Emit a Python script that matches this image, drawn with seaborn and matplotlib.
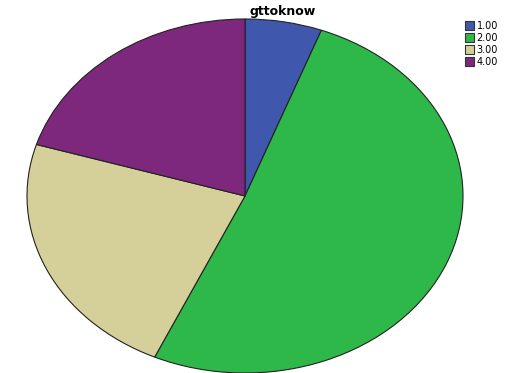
import matplotlib
matplotlib.use("Agg")
import matplotlib.pyplot as plt
import seaborn as sns
from matplotlib.patches import Patch

sns.set_style("white")
plt.rcParams['font.family'] = ['DejaVu Sans']
plt.rcParams['text.color'] = 'black'

categories = ["1.00", "2.00", "3.00", "4.00"]
shares = [5.7, 51.1, 22.9, 20.3]
colors = ["#3F57AD", "#2EB84A", "#D5D09A", "#7D287D"]

fig = plt.figure(figsize=(5.11, 3.73), dpi=100)
ax = fig.add_axes([27 / 511, 0.0, 436 / 511, 354 / 373])
wedges, _ = ax.pie(shares, colors=colors, startangle=90, counterclock=False,
                   wedgeprops=dict(edgecolor="#222222", linewidth=0.8))
for w in wedges:
    w.set_clip_on(False)
ax.set_aspect("auto")
ax.set_xlim(-1, 1)
ax.set_ylim(-1, 1)
ax.axis("off")

fig.text(283 / 511, 1 - 12 / 373, "gttoknow", ha="center", va="center",
         fontsize=9, fontweight="bold", color="black")

handles = [Patch(facecolor=c, edgecolor="#333333", linewidth=0.8, label=l)
           for c, l in zip(colors, categories)]
fig.legend(handles=handles, loc="upper left", bbox_to_anchor=(465 / 511, 1 - 21 / 373),
           frameon=False, fontsize=7, handlelength=0.95, handleheight=0.95,
           handletextpad=0.25, labelspacing=0.2, borderaxespad=0, borderpad=0,
           labelcolor="black")

fig.savefig("out.png", dpi=100)
